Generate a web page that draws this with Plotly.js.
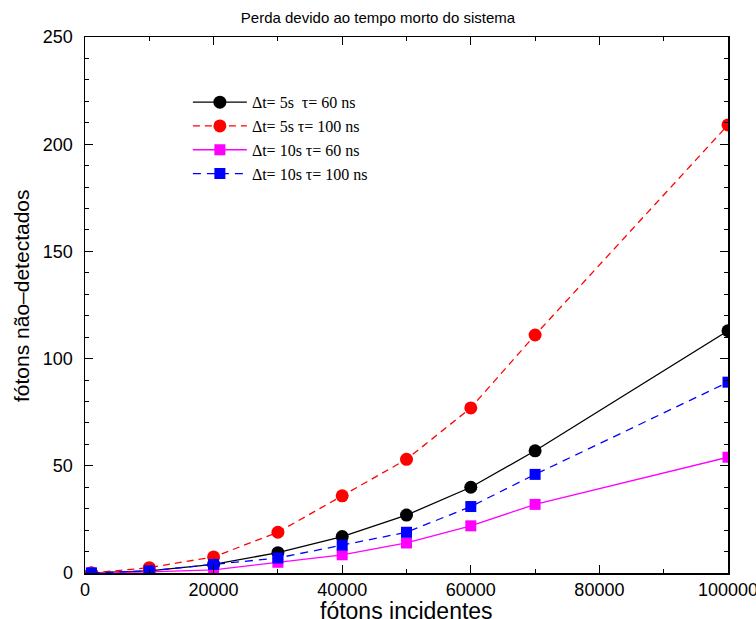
<!DOCTYPE html>
<html>
<head>
<meta charset="utf-8">
<script src="https://cdn.plot.ly/plotly-3.0.1.min.js"></script>
<style>html,body{margin:0;padding:0;background:#fff;}</style>
</head>
<body>
<div id="chart" style="width:756px;height:619px;"></div>
<script>
const xVals = [1000, 10000, 20000, 30000, 40000, 50000, 60000, 70000, 100000];
const black5s60 = [0, 1, 4, 9.5, 17, 27, 40, 57, 113];
const red5s100 = [0, 2.5, 7.5, 19, 36, 53, 77, 111, 209];
const mag10s60 = [0, 0.5, 1.5, 5, 8.5, 14, 22, 32, 54];
const blue10s100 = [0, 1, 4, 7, 13, 19, 31, 46, 89];
const seriesNames = ["Δt= 5s  τ= 60 ns", "Δt= 5s τ= 100 ns", "Δt= 10s τ= 60 ns", "Δt= 10s τ= 100 ns"];
const chartTitle = 'Perda devido ao tempo morto do sistema';
const xTitle = 'fótons incidentes';
const yTitle = 'fótons não–detectados';

const sans = 'Liberation Sans, Arial, sans-serif';

const traces = [
  {x: xVals, y: black5s60, name: seriesNames[0], mode: 'lines+markers',
   line: {color: '#000000', width: 1.3}, marker: {symbol: 'circle', size: 13, color: '#000000'}},
  {x: xVals, y: red5s100, name: seriesNames[1], mode: 'lines+markers',
   line: {color: '#ff0000', width: 1.3, dash: '7px,5px'}, marker: {symbol: 'circle', size: 13, color: '#ff0000'}},
  {x: xVals, y: mag10s60, name: seriesNames[2], mode: 'lines+markers',
   line: {color: '#ff00ff', width: 1.3}, marker: {symbol: 'square', size: 11, color: '#ff00ff'}},
  {x: xVals, y: blue10s100, name: seriesNames[3], mode: 'lines+markers',
   line: {color: '#0000ff', width: 1.3, dash: '8px,6px'}, marker: {symbol: 'square', size: 11, color: '#0000ff'}}
];

const axisCommon = {
  showline: true, linecolor: '#000', linewidth: 1.5, mirror: 'ticks',
  ticks: 'inside', ticklen: 8, tickcolor: '#000', tickwidth: 1,
  showgrid: false, zeroline: false, ticklabeloverflow: 'allow',
  tickfont: {family: sans, size: 18, color: '#000'}
};

const layout = {
  width: 756, height: 619,
  margin: {l: 85, r: 28, t: 37, b: 46},
  paper_bgcolor: '#fff', plot_bgcolor: '#fff',
  title: {text: chartTitle, x: 0.5, xanchor: 'center', y: 0.972, yanchor: 'middle',
          font: {family: sans, size: 15, color: '#000'}},
  xaxis: Object.assign({}, axisCommon, {
    range: [0, 100000], dtick: 20000, tick0: 0, tickformat: 'd',
    minor: {ticks: 'inside', dtick: 10000, ticklen: 4, tickcolor: '#000'}
  }),
  yaxis: Object.assign({}, axisCommon, {
    range: [0, 250], dtick: 50, tick0: 0, ticklabelstandoff: 7,
    minor: {ticks: 'inside', dtick: 10, ticklen: 4, tickcolor: '#000'}
  }),
  annotations: [
    {text: yTitle, xref: 'paper', yref: 'paper', x: 0, y: 0.5, xanchor: 'center', yanchor: 'middle',
     xshift: -64, yshift: 9, textangle: -90, showarrow: false,
     font: {family: sans, size: 21, color: '#000'}},
    {text: xTitle, xref: 'paper', yref: 'paper', x: 0.5, y: 0, xanchor: 'center', yanchor: 'middle',
     yshift: -38, showarrow: false,
     font: {family: sans, size: 23, color: '#000'}}
  ],
  showlegend: true,
  legend: {x: 0.16, y: 0.91, xanchor: 'left', yanchor: 'top', bgcolor: 'rgba(0,0,0,0)',
           font: {family: 'Liberation Serif, Times New Roman, serif', size: 16, color: '#000'},
           itemwidth: 54, tracegroupgap: 0}
};

Plotly.newPlot('chart', traces, layout, {displayModeBar: false, staticPlot: true});
</script>
</body>
</html>
